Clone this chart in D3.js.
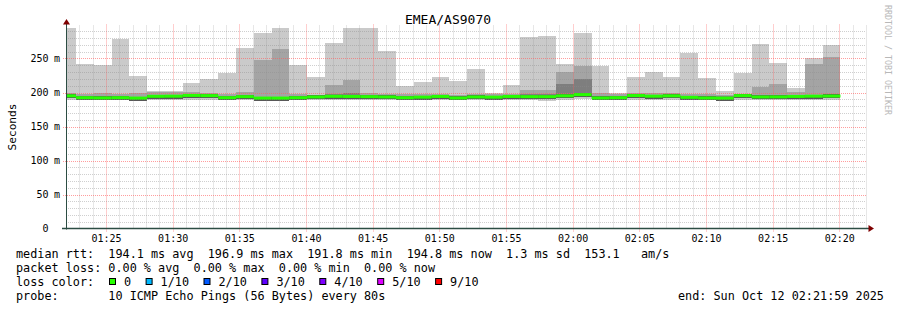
<!DOCTYPE html>
<html>
<head>
<meta charset="utf-8">
<title>EMEA/AS9070</title>
<script src="https://cdn.jsdelivr.net/npm/d3@7"></script>
<style>
  body { margin: 0; background: #fff; }
  svg { display: block; font-family: "DejaVu Sans Mono", monospace; }
  text { white-space: pre; }
</style>
</head>
<body>
<svg id="chart" width="897" height="310"></svg>
<script>
// smokeping style chart, 80s steps, 10 pings each
var title = "EMEA/AS9070";
var stepStart = "2025-10-12T01:21:25Z";
var stepSeconds = 80;
var viewStart = "2025-10-12T01:22:00Z";
var viewEnd = "2025-10-12T02:22:00Z";

// values in ms
var pingMax = [294.9, 241.9, 239.9, 278.5, 224.0, 202.2, 202.7, 214.1, 220.0, 228.0,
  265.6, 287.9, 294.9, 240.5, 223.0, 273.3, 294.9, 294.9, 260.7, 209.1,
  215.1, 223.0, 217.1, 234.9, 199.2, 211.1, 281.5, 283.5, 241.9, 287.9,
  239.4, 199.2, 223.0, 230.5, 223.0, 258.7, 221.0, 202.2, 229.0, 271.6,
  243.3, 206.7, 250.8, 269.6];
var ping9 = [198.8, 198.3, 199.3, 197.8, 199.3, 200.2, 200.7, 200.2, 199.3, 198.3,
  200.7, 248.2, 263.7, 197.8, 196.8, 211.1, 218.1, 199.2, 198.3, 197.3,
  197.8, 198.3, 196.8, 197.8, 197.3, 198.3, 203.7, 203.7, 230.0, 239.4,
  199.2, 198.3, 199.3, 198.8, 198.8, 197.8, 197.3, 195.8, 198.3, 208.1,
  212.1, 200.7, 242.3, 251.8];
var ping8 = [196.6, 193.9, 193.6, 193.9, 193.3, 195.9, 196.1, 197.2, 196.9, 193.9,
  195.4, 193.3, 193.3, 193.9, 195.0, 198.5, 199.0, 195.4, 195.0, 193.9,
  194.7, 195.7, 193.5, 195.0, 194.7, 195.7, 197.5, 198.5, 213.0, 220.0,
  193.5, 193.9, 197.0, 196.1, 196.6, 194.4, 193.5, 194.5, 196.9, 195.0,
  196.5, 195.7, 196.1, 196.3];
var pingMin = [189.0, 189.5, 188.7, 189.3, 189.1, 189.7, 189.5, 188.8, 189.0, 189.1,
  189.5, 188.7, 189.0, 189.3, 188.5, 188.3, 189.0, 189.2, 188.7, 189.5,
  189.0, 188.8, 189.1, 189.5, 190.5, 189.5, 189.1, 188.1, 189.7, 190.0,
  188.7, 189.5, 188.9, 188.3, 189.0, 189.3, 189.1, 188.3, 189.1, 188.8,
  188.4, 189.0, 188.8, 188.9];
var rttMedian = [195.1, 192.4, 192.1, 192.4, 191.8, 194.4, 194.6, 195.7, 195.4, 192.4,
  193.9, 191.8, 191.8, 192.4, 193.5, 194.4, 194.2, 193.9, 193.5, 192.4,
  193.2, 194.2, 192.0, 193.5, 193.2, 194.2, 193.9, 193.9, 195.1, 196.9,
  192.0, 192.4, 195.5, 194.6, 195.1, 192.9, 192.0, 191.8, 195.4, 193.5,
  193.6, 194.2, 194.6, 194.8];
var lossCount = [0, 0, 0, 0, 0, 0, 0, 0, 0, 0, 0, 0, 0, 0, 0, 0, 0, 0, 0, 0, 0, 0,
  0, 0, 0, 0, 0, 0, 0, 0, 0, 0, 0, 0, 0, 0, 0, 0, 0, 0, 0, 0, 0, 0];

var yTicks = [0, 50, 100, 150, 200, 250];
var lossLabels = ["0", "1/10", "2/10", "3/10", "4/10", "5/10", "9/10"];
var lossColors = ["#26ff00", "#00b8ff", "#0059ff", "#5e00ff", "#7e00ff", "#dd00ff", "#ff0000"];
var statLines = [
  "median rtt:  194.1 ms avg  196.9 ms max  191.8 ms min  194.8 ms now  1.3 ms sd  153.1   am/s",
  "packet loss: 0.00 % avg  0.00 % max  0.00 % min  0.00 % now",
  "loss color:",
  "probe:       10 ICMP Echo Pings (56 Bytes) every 80s"
];
var endLabel = "end: Sun Oct 12 02:21:59 2025";

var svg = d3.select("#chart");
var pL = 66, pR = 866, pB = 228.5, pT = 24.5;

var x = d3.scaleUtc().domain([new Date(viewStart), new Date(viewEnd)]).range([pL, pR]);
var y = d3.scaleLinear().domain([0, 300]).range([pB, pT]);

var t0 = new Date(stepStart).getTime();
var steps = pingMax.map(function (d, i) {
  return { i: i, t: new Date(t0 + i * stepSeconds * 1000), t1: new Date(t0 + (i + 1) * stepSeconds * 1000) };
});

svg.append("defs").append("clipPath").attr("id", "plot")
  .append("rect").attr("x", pL).attr("y", 0).attr("width", pR - pL).attr("height", pB);

var smoke = svg.append("g").attr("clip-path", "url(#plot)");

var layers = [
  { color: "#cacaca", hi: function (i) { return pingMax[i]; }, lo: function (i) { return pingMin[i]; } },
  { color: "#a4a4a4", hi: function (i) { return ping9[i]; }, lo: function (i) { return Math.max(pingMin[i], rttMedian[i] - 3.6); } },
  { color: "#7e7e7e", hi: function (i) { return ping8[i]; }, lo: function (i) { return Math.max(pingMin[i], rttMedian[i] - 3.6); } },
  { color: "#585858", hi: function (i) { return rttMedian[i] + 2.3; }, lo: function (i) { return rttMedian[i] - 3.6; } }
];

layers.forEach(function (L) {
  smoke.append("g").selectAll("rect").data(steps).enter().append("rect")
    .attr("x", function (d) { return x(d.t); })
    .attr("width", function (d) { return x(d.t1) - x(d.t); })
    .attr("y", function (d) { return y(L.hi(d.i)); })
    .attr("height", function (d) { return Math.max(0, y(L.lo(d.i)) - y(L.hi(d.i))); })
    .attr("fill", L.color)
    .attr("shape-rendering", "crispEdges");
});

// grid on top of the smoke
var grid = svg.append("g");
var minorColor = "rgba(140,140,140,0.42)";
var majorColor = "rgba(255,92,92,0.6)";

x.ticks(d3.utcMinute.every(1)).forEach(function (t) {
  var major = t.getUTCMinutes() % 5 === 0;
  var px = Math.round(x(t)) + 0.5;
  if (px <= pL + 1) return;
  grid.append("line")
    .attr("x1", px).attr("x2", px)
    .attr("y1", major ? pB + 3 : pB).attr("y2", pT)
    .attr("stroke", major ? majorColor : minorColor)
    .attr("stroke-dasharray", "1,1");
});

d3.range(10, 300, 10).forEach(function (v) {
  var major = v % 50 === 0;
  var py = Math.round(y(v)) + 0.5;
  grid.append("line")
    .attr("x1", major ? pL - 3 : pL).attr("x2", pR)
    .attr("y1", py).attr("y2", py)
    .attr("stroke", major ? majorColor : minorColor)
    .attr("stroke-dasharray", "1,1");
});

// median band coloured by loss
svg.append("g").attr("clip-path", "url(#plot)")
  .selectAll("rect").data(steps).enter().append("rect")
  .attr("x", function (d) { return x(d.t); })
  .attr("width", function (d) { return x(d.t1) - x(d.t); })
  .attr("y", function (d) { return y(rttMedian[d.i]) - 1.5; })
  .attr("height", 3)
  .attr("fill", function (d) { return lossColors[lossCount[d.i]]; });

// axes
var axisColor = "#2c4d43", arrowColor = "#7f0000";
svg.append("line").attr("x1", pL + 0.5).attr("x2", pL + 0.5).attr("y1", pB + 1).attr("y2", pT - 3)
  .attr("stroke", axisColor);
svg.append("line").attr("x1", pL - 4).attr("x2", pR + 3).attr("y1", pB).attr("y2", pB)
  .attr("stroke", axisColor).attr("stroke-width", 1.3);
svg.append("path").attr("d", "M" + (pL + 0.5) + "," + (pT - 5.5) + "l3.5,5.5h-7z").attr("fill", arrowColor);
svg.append("path").attr("d", "M" + (pR + 8) + "," + pB + "l-5.5,-3.5v7z").attr("fill", arrowColor);

// y labels
var yl = svg.append("g").attr("font-size", "10px").attr("fill", "#000");
yTicks.forEach(function (v) {
  yl.append("text").attr("x", 48.5).attr("y", y(v)).attr("dy", "0.36em")
    .attr("text-anchor", "end").text(v);
  if (v !== 0) {
    yl.append("text").attr("x", 54).attr("y", y(v)).attr("dy", "0.36em").text("m");
  }
});

// x labels
var xl = svg.append("g").attr("font-size", "10px").attr("fill", "#000");
x.ticks(d3.utcMinute.every(5)).forEach(function (t) {
  xl.append("text").attr("x", x(t) + 0.5).attr("y", 241.5).attr("text-anchor", "middle")
    .text(d3.utcFormat("%H:%M")(t));
});

// titles
svg.append("text").attr("x", 448).attr("y", 24).attr("text-anchor", "middle")
  .attr("font-size", "13px").text(title);
svg.append("text").attr("transform", "translate(15.5,127) rotate(-90)").attr("text-anchor", "middle")
  .attr("font-size", "11.2px").text("Seconds");
svg.append("text").attr("transform", "translate(884.5,5) rotate(90)")
  .attr("font-size", "8.3px").attr("fill", "#b8b8b8").text("RRDTOOL / TOBI OETIKER");

// legend
var lg = svg.append("g").attr("font-size", "11.8px").attr("fill", "#000");
var lineY = [258, 272, 286, 300];
statLines.forEach(function (s, k) {
  lg.append("text").attr("x", 16).attr("y", lineY[k]).attr("xml:space", "preserve").text(s);
});
var sx = 109;
lossLabels.forEach(function (lab, k) {
  lg.append("rect").attr("x", sx + 0.5).attr("y", 278.5).attr("width", 6).attr("height", 6)
    .attr("fill", lossColors[k]).attr("stroke", "#000");
  lg.append("text").attr("x", sx + 15).attr("y", lineY[2]).text(lab);
  sx = sx + 15 + lab.length * 7.1 + 14.5;
});
lg.append("text").attr("x", 678).attr("y", lineY[3]).text(endLabel);
</script>
</body>
</html>
